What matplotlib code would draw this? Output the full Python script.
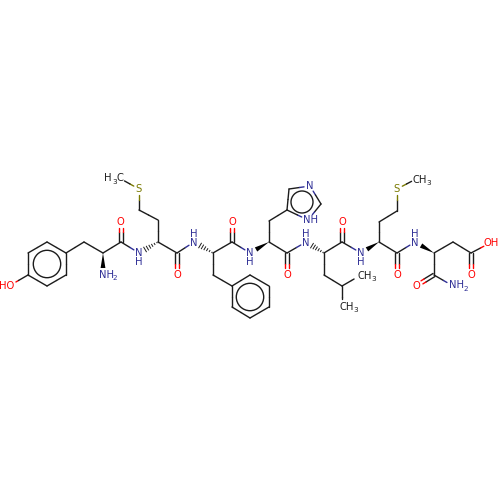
import numpy as np
import matplotlib
matplotlib.use('Agg')
import matplotlib.pyplot as plt

# Atoms (pixel coordinates of the drawing)
atom_names = ['o1', 'c1', 'c2', 'c3', 'c4', 'c5', 'c6', 'cb1', 'ca1', 'n1', 'c7', 'o2', 'n2',
              'ca2', 'cb2', 'cg2', 's1', 'me1', 'c8', 'o3', 'n3', 'ca3', 'cb3',
              'r1', 'r2', 'r3', 'r4', 'r5', 'r6', 'c9', 'o4', 'n4', 'ca4', 'cb4',
              'i1', 'i2', 'n5', 'i3', 'n6', 'c10', 'o5', 'n7', 'ca5', 'cb5', 'cg5', 'me2', 'me3',
              'c11', 'o6', 'n8', 'ca6', 'cb6', 'cg6', 's2', 'me4', 'c12', 'o7', 'n9',
              'ca7', 'cb7', 'c13', 'o8', 'o9', 'c14', 'o10', 'n10']
atom_x = [9, 28, 28, 47, 66, 66, 47, 84, 103, 103, 121, 121, 139,
          158, 158, 139, 139, 121, 177, 177, 194, 213, 213,
          232, 250, 269, 269, 250, 232, 232, 232, 250, 269, 269,
          287, 289, 310, 321, 308, 287, 287, 306, 324, 324, 342, 361, 342,
          342, 342, 361, 379, 379, 397, 397, 416, 397, 397, 415,
          434, 453, 471, 471, 490, 434, 416, 453]
atom_y = [286, 275, 253, 242, 253, 275, 286, 242, 253, 275, 242, 221, 253,
          242, 220, 210, 189, 179, 253, 275, 242, 253, 275,
          286, 275, 286, 307, 318, 307, 242, 221, 253, 242, 221,
          210, 189, 186, 204, 220, 253, 275, 242, 253, 275, 286, 275, 307,
          242, 221, 253, 242, 222, 211, 189, 179, 253, 275, 242,
          253, 242, 253, 275, 243, 275, 286, 286]

# Bonds: start atom, end atom, kind
bond_start = ['o1', 'c1', 'c2', 'c3', 'c4', 'c5', 'c6', 'c4', 'cb1', 'ca1', 'ca1', 'c7', 'c7', 'ca2',
              'ca2', 'cb2', 'cg2', 's1', 'ca2', 'c8', 'c8', 'ca3', 'ca3', 'cb3',
              'r1', 'r2', 'r3', 'r4', 'r5', 'r6', 'ca3', 'c9', 'c9', 'ca4', 'ca4', 'cb4',
              'i1', 'i2', 'n5', 'i3', 'n6', 'ca4', 'c10', 'c10', 'ca5', 'ca5', 'cb5', 'cg5', 'cg5',
              'ca5', 'c11', 'c11', 'ca6', 'ca6', 'cb6', 'cg6', 's2', 'ca6', 'c12', 'c12',
              'ca7', 'ca7', 'cb7', 'c13', 'c13', 'ca7', 'c14', 'c14']
bond_end = ['c1', 'c2', 'c3', 'c4', 'c5', 'c6', 'c1', 'cb1', 'ca1', 'n1', 'c7', 'o2', 'n2', 'n2',
            'cb2', 'cg2', 's1', 'me1', 'c8', 'o3', 'n3', 'n3', 'cb3', 'r1',
            'r2', 'r3', 'r4', 'r5', 'r6', 'r1', 'c9', 'o4', 'n4', 'n4', 'cb4', 'i1',
            'i2', 'n5', 'i3', 'n6', 'i1', 'c10', 'o5', 'n7', 'n7', 'cb5', 'cg5', 'me2', 'me3',
            'c11', 'o6', 'n8', 'n8', 'cb6', 'cg6', 's2', 'me4', 'c12', 'o7', 'n9',
            'n9', 'cb7', 'c13', 'o8', 'o9', 'c14', 'o10', 'n10']
bond_kind = ['s', 's', 's', 's', 's', 's', 's', 's', 's', 'wedge', 's', 'd', 's', 'hash',
             's', 's', 's', 's', 's', 'd', 's', 'hash', 's', 's',
             's', 's', 's', 's', 's', 's', 's', 'd', 's', 'wedge', 's', 's',
             's', 's', 's', 's', 's', 's', 'd', 's', 'hash', 's', 's', 's', 's',
             's', 'd', 's', 'wedge', 's', 's', 's', 's', 's', 'd', 's',
             'wedge', 's', 's', 'd', 's', 's', 'd', 's']

# Aromatic rings are drawn with an inner circle
ring_x = [47, 250, 302]
ring_y = [264, 297, 202]
ring_r = [13.7, 13.7, 11]

# Atom labels
label_text = ['HO', 'NH', '2', 'O', 'N', 'H', 'S', 'H', '3', 'C', 'O', 'N', 'H', 'O', 'N', 'H',
              'N', 'NH', 'O', 'N', 'H', 'CH', '3', 'CH', '3', 'O', 'N', 'H', 'S', 'CH', '3',
              'O', 'N', 'H', 'O', 'OH', 'O', 'NH', '2']
label_x = [7, 106, 115, 120, 139, 139, 139, 108, 115, 120, 177, 194, 194, 232, 250, 250,
           310, 310, 287, 306, 306, 365, 374, 347, 356, 342, 361, 361, 397, 420, 429,
           397, 415, 415, 471, 491, 416, 457, 466]
label_y = [286, 275, 278, 222, 253, 262, 189, 178, 182, 178, 275, 243, 234, 222, 253, 262,
           186, 220, 275, 243, 234, 276, 279, 307, 310, 222, 253, 262, 189, 180, 183,
           275, 243, 234, 275, 243, 286, 285, 289]
label_kind = ['O', 'N', 'N', 'O', 'N', 'N', 'S', 'C', 'C', 'C', 'O', 'N', 'N', 'O', 'N', 'N',
              'N', 'N', 'O', 'N', 'N', 'C', 'C', 'C', 'C', 'O', 'N', 'N', 'S', 'C', 'C',
              'O', 'N', 'N', 'O', 'O', 'O', 'N', 'N']

colors = {'C': '#1c1c1c', 'N': '#2f2f96', 'O': '#ff0000', 'S': '#7a7a00'}
pos = {n: np.array([x, y], dtype=float) for n, x, y in zip(atom_names, atom_x, atom_y)}
gaps = {'me1': 4, 'me2': 8, 'me3': 8, 'me4': 5, 'o1': 8, 'o9': 7, 'n1': 7, 'n6': 7, 'n10': 7}


def atom_kind(name):
    return name[0].upper() if name[0] in 'ons' else 'C'


def end_gap(name):
    if name in gaps:
        return gaps[name]
    return 7 if atom_kind(name) == 'O' else 6 if atom_kind(name) != 'C' else 0


def draw_line(ax, a, b, name_a, name_b, offset=np.zeros(2)):
    u = (b - a) / np.linalg.norm(b - a)
    mid = (a + b) / 2 + offset
    p = a + u * end_gap(name_a) + offset
    q = b - u * end_gap(name_b) + offset
    ax.plot([p[0], mid[0]], [p[1], mid[1]], color=colors[atom_kind(name_a)], lw=1.0, solid_capstyle='round')
    ax.plot([mid[0], q[0]], [mid[1], q[1]], color=colors[atom_kind(name_b)], lw=1.0, solid_capstyle='round')


fig = plt.figure(figsize=(5, 5), dpi=100)
ax = fig.add_axes([0, 0, 1, 1])
ax.set_xlim(0, 500)
ax.set_ylim(500, 0)
ax.axis('off')

for start, end, kind in zip(bond_start, bond_end, bond_kind):
    a, b = pos[start], pos[end]
    u = (b - a) / np.linalg.norm(b - a)
    normal = np.array([-u[1], u[0]])
    stop = b - u * 7
    if kind == 's':
        draw_line(ax, a, b, start, end)
    elif kind == 'd':
        draw_line(ax, a, b, start, end, normal * 1.8)
        draw_line(ax, a, b, start, end, normal * -1.8)
    elif kind == 'wedge':
        corners = np.array([a, stop + normal * 2.4, stop - normal * 2.4])
        ax.fill(corners[:, 0], corners[:, 1], color='black', lw=0)
    else:
        for t in np.linspace(0.08, 1, 6):
            c = a + (stop - a) * t
            w = 2.6 * t
            ax.plot([c[0] - normal[0] * w, c[0] + normal[0] * w],
                    [c[1] - normal[1] * w, c[1] + normal[1] * w], color='#1c1c1c', lw=0.7)

for x, y, r in zip(ring_x, ring_y, ring_r):
    ax.add_patch(plt.Circle((x, y), r, fill=False, ec='#1c1c1c', lw=1.0))

for text, x, y, kind in zip(label_text, label_x, label_y, label_kind):
    size = 5.2 if text in ('2', '3') else 7.2
    ax.text(x, y, text, color=colors[kind], fontsize=size, ha='center', va='center')

fig.savefig('out.png', dpi=100)
